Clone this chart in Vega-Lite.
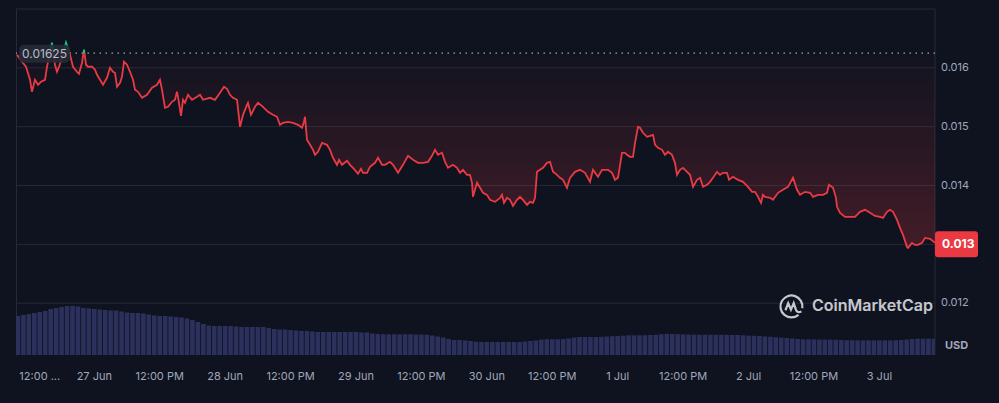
{
  "$schema": "https://vega.github.io/schema/vega-lite/v6.json",
  "width": 919,
  "height": 346,
  "autosize": {"type": "none"},
  "padding": {"left": 16, "top": 9, "right": 64, "bottom": 48},
  "background": "#0e131f",
  "config": {"view": {"stroke": null}, "font": "Inter"},
  "datasets": {
    "price": [
      {"h":9.82,"p":0.016223},{"h":10.74,"p":0.016104},{"h":11.47,"p":0.016019},{"h":12.21,"p":0.015797},{"h":12.57,"p":0.015593},
      {"h":13.12,"p":0.015797},{"h":13.68,"p":0.015712},{"h":14.23,"p":0.015763},{"h":14.96,"p":0.015797},{"h":15.33,"p":0.016019},
      {"h":15.69,"p":0.016189},{"h":16.24,"p":0.016427},{"h":16.79,"p":0.016053},{"h":17.16,"p":0.015933},{"h":17.53,"p":0.016019},
      {"h":18.08,"p":0.016172},{"h":18.81,"p":0.016427},{"h":19.54,"p":0.016223},{"h":19.91,"p":0.016087},{"h":20.09,"p":0.016019},
      {"h":20.83,"p":0.015933},{"h":21.19,"p":0.015899},{"h":21.75,"p":0.016087},{"h":22.11,"p":0.016308},{"h":22.48,"p":0.016053},
      {"h":22.85,"p":0.016019},{"h":23.58,"p":0.016019},{"h":24.13,"p":0.015968},{"h":24.50,"p":0.015882},{"h":25.05,"p":0.015797},
      {"h":25.60,"p":0.015712},{"h":26.33,"p":0.015831},{"h":26.88,"p":0.016002},{"h":27.43,"p":0.015933},{"h":27.80,"p":0.015916},
      {"h":28.17,"p":0.015678},{"h":28.72,"p":0.015746},{"h":29.08,"p":0.015848},{"h":29.45,"p":0.016104},{"h":30.00,"p":0.016053},
      {"h":30.55,"p":0.015933},{"h":31.10,"p":0.015797},{"h":31.47,"p":0.015627},{"h":32.02,"p":0.015593},{"h":32.75,"p":0.015491},
      {"h":33.67,"p":0.015542},{"h":34.59,"p":0.015661},{"h":35.50,"p":0.015712},{"h":36.05,"p":0.015797},{"h":36.42,"p":0.015627},
      {"h":36.97,"p":0.015321},{"h":37.52,"p":0.015338},{"h":38.25,"p":0.015423},{"h":38.80,"p":0.015457},{"h":39.17,"p":0.015593},
      {"h":39.35,"p":0.015508},{"h":39.90,"p":0.015185},{"h":40.27,"p":0.015457},{"h":40.64,"p":0.015406},{"h":41.19,"p":0.015542},
      {"h":41.92,"p":0.015457},{"h":42.84,"p":0.015508},{"h":43.39,"p":0.015542},{"h":43.94,"p":0.015457},{"h":45.22,"p":0.015491},
      {"h":46.14,"p":0.015457},{"h":47.06,"p":0.015576},{"h":47.79,"p":0.015678},{"h":48.34,"p":0.015644},{"h":48.89,"p":0.015542},
      {"h":49.44,"p":0.015491},{"h":50.18,"p":0.015457},{"h":50.73,"p":0.014998},{"h":51.28,"p":0.015202},{"h":52.01,"p":0.015372},
      {"h":52.19,"p":0.015406},{"h":52.74,"p":0.015202},{"h":53.48,"p":0.015338},{"h":54.03,"p":0.015406},{"h":54.94,"p":0.015338},
      {"h":55.86,"p":0.015253},{"h":56.78,"p":0.015202},{"h":57.51,"p":0.015168},{"h":58.06,"p":0.015032},{"h":58.61,"p":0.015066},
      {"h":59.53,"p":0.015083},{"h":60.45,"p":0.015066},{"h":61.36,"p":0.015032},{"h":62.10,"p":0.014981},{"h":62.46,"p":0.015083},
      {"h":62.65,"p":0.015168},{"h":63.01,"p":0.014777},{"h":63.57,"p":0.014692},{"h":64.12,"p":0.014607},{"h":64.48,"p":0.014522},
      {"h":65.03,"p":0.014573},{"h":65.77,"p":0.014726},{"h":66.68,"p":0.014692},{"h":67.23,"p":0.014607},{"h":67.78,"p":0.014471},
      {"h":68.52,"p":0.014352},{"h":68.88,"p":0.014437},{"h":69.43,"p":0.014352},{"h":70.35,"p":0.014420},{"h":70.90,"p":0.014352},
      {"h":71.45,"p":0.014301},{"h":72.37,"p":0.014199},{"h":72.92,"p":0.014284},{"h":73.29,"p":0.014216},{"h":74.02,"p":0.014216},
      {"h":74.57,"p":0.014318},{"h":75.49,"p":0.014386},{"h":76.04,"p":0.014471},{"h":76.77,"p":0.014352},{"h":77.32,"p":0.014352},
      {"h":78.24,"p":0.014403},{"h":78.79,"p":0.014352},{"h":79.71,"p":0.014216},{"h":80.62,"p":0.014352},{"h":81.54,"p":0.014505},
      {"h":82.46,"p":0.014437},{"h":83.38,"p":0.014386},{"h":84.29,"p":0.014386},{"h":85.21,"p":0.014403},{"h":85.94,"p":0.014505},
      {"h":86.49,"p":0.014607},{"h":87.04,"p":0.014522},{"h":87.78,"p":0.014556},{"h":88.33,"p":0.014403},{"h":88.88,"p":0.014301},
      {"h":89.79,"p":0.014352},{"h":90.53,"p":0.014301},{"h":91.08,"p":0.014216},{"h":91.63,"p":0.014267},{"h":92.36,"p":0.014182},
      {"h":92.91,"p":0.014182},{"h":93.28,"p":0.014046},{"h":93.46,"p":0.013808},{"h":94.20,"p":0.014046},{"h":94.75,"p":0.013961},
      {"h":95.30,"p":0.013876},{"h":96.03,"p":0.013842},{"h":96.58,"p":0.013757},{"h":97.50,"p":0.013723},{"h":98.42,"p":0.013791},
      {"h":98.78,"p":0.013842},{"h":99.15,"p":0.013706},{"h":99.70,"p":0.013791},{"h":100.25,"p":0.013757},{"h":100.80,"p":0.013655},
      {"h":101.53,"p":0.013757},{"h":102.08,"p":0.013808},{"h":102.63,"p":0.013757},{"h":103.37,"p":0.013672},{"h":103.92,"p":0.013723},
      {"h":104.47,"p":0.013706},{"h":104.84,"p":0.013791},{"h":105.20,"p":0.014233},{"h":105.75,"p":0.014267},{"h":106.30,"p":0.014301},
      {"h":107.04,"p":0.014386},{"h":107.59,"p":0.014403},{"h":108.14,"p":0.014233},{"h":108.87,"p":0.014182},{"h":109.42,"p":0.014131},
      {"h":109.97,"p":0.014097},{"h":110.70,"p":0.013961},{"h":111.25,"p":0.014131},{"h":112.17,"p":0.014233},{"h":113.09,"p":0.014267},
      {"h":114.01,"p":0.014216},{"h":114.92,"p":0.014063},{"h":115.47,"p":0.014267},{"h":116.39,"p":0.014148},{"h":117.12,"p":0.014267},
      {"h":118.22,"p":0.014267},{"h":118.96,"p":0.014216},{"h":119.51,"p":0.014097},{"h":120.06,"p":0.014131},{"h":120.79,"p":0.014556},
      {"h":121.34,"p":0.014556},{"h":121.71,"p":0.014522},{"h":122.26,"p":0.014488},{"h":122.81,"p":0.014488},{"h":123.18,"p":0.014726},
      {"h":123.73,"p":0.014998},{"h":124.09,"p":0.014981},{"h":124.64,"p":0.014896},{"h":125.38,"p":0.014828},{"h":125.93,"p":0.014845},
      {"h":126.48,"p":0.014862},{"h":126.85,"p":0.014692},{"h":127.40,"p":0.014641},{"h":128.13,"p":0.014607},{"h":128.68,"p":0.014522},
      {"h":129.23,"p":0.014573},{"h":129.96,"p":0.014522},{"h":130.51,"p":0.014386},{"h":130.88,"p":0.014182},{"h":131.43,"p":0.014267},
      {"h":131.98,"p":0.014301},{"h":132.72,"p":0.014233},{"h":133.27,"p":0.014182},{"h":133.82,"p":0.013978},{"h":134.55,"p":0.014097},
      {"h":135.10,"p":0.014131},{"h":135.65,"p":0.013978},{"h":136.38,"p":0.014012},{"h":136.93,"p":0.014063},{"h":137.48,"p":0.014131},
      {"h":138.22,"p":0.014233},{"h":138.77,"p":0.014182},{"h":139.32,"p":0.014216},{"h":140.05,"p":0.014216},{"h":140.42,"p":0.014097},
      {"h":141.15,"p":0.014148},{"h":142.07,"p":0.014097},{"h":142.99,"p":0.014063},{"h":143.90,"p":0.013978},{"h":144.64,"p":0.013893},
      {"h":145.19,"p":0.013893},{"h":145.74,"p":0.013808},{"h":146.29,"p":0.013706},{"h":146.65,"p":0.013842},{"h":147.02,"p":0.013808},
      {"h":147.94,"p":0.013791},{"h":148.49,"p":0.013757},{"h":149.41,"p":0.013876},{"h":150.32,"p":0.013927},{"h":151.24,"p":0.013978},
      {"h":152.16,"p":0.014131},{"h":152.89,"p":0.013927},{"h":153.44,"p":0.013842},{"h":154.36,"p":0.013893},{"h":155.28,"p":0.013876},
      {"h":155.83,"p":0.013808},{"h":156.74,"p":0.013842},{"h":157.66,"p":0.013842},{"h":158.39,"p":0.013876},{"h":158.76,"p":0.014012},
      {"h":159.49,"p":0.013961},{"h":160.04,"p":0.013791},{"h":160.23,"p":0.013638},{"h":160.78,"p":0.013536},{"h":161.70,"p":0.013467},
      {"h":162.61,"p":0.013467},{"h":163.53,"p":0.013467},{"h":164.45,"p":0.013553},{"h":165.36,"p":0.013587},{"h":166.28,"p":0.013536},
      {"h":167.20,"p":0.013484},{"h":168.11,"p":0.013467},{"h":168.67,"p":0.013450},{"h":169.40,"p":0.013553},{"h":169.95,"p":0.013587},
      {"h":170.50,"p":0.013553},{"h":171.23,"p":0.013416},{"h":171.78,"p":0.013280},{"h":172.33,"p":0.013161},{"h":173.07,"p":0.012957},
      {"h":173.25,"p":0.012940},{"h":173.98,"p":0.013025},{"h":174.53,"p":0.012991},{"h":175.09,"p":0.012991},{"h":175.82,"p":0.013025},
      {"h":176.37,"p":0.013110},{"h":177.29,"p":0.013093},{"h":178.20,"p":0.013025}
    ],
    "volume": [
      {"h":10,"v":39},{"h":11,"v":40},{"h":12,"v":41},{"h":13,"v":42},{"h":14,"v":43},{"h":15,"v":44},{"h":16,"v":46},{"h":17,"v":47},
      {"h":18,"v":48},{"h":19,"v":49},{"h":20,"v":49},{"h":21,"v":48.5},{"h":22,"v":47},{"h":23,"v":46.5},{"h":24,"v":46},{"h":25,"v":45.5},
      {"h":26,"v":45},{"h":27,"v":44.5},{"h":28,"v":44.5},{"h":29,"v":43.5},{"h":30,"v":42.5},{"h":31,"v":42},{"h":32,"v":42},{"h":33,"v":41.5},
      {"h":34,"v":40.5},{"h":35,"v":39.5},{"h":36,"v":39},{"h":37,"v":39},{"h":38,"v":38.5},{"h":39,"v":38},{"h":40,"v":37.5},{"h":41,"v":36.5},
      {"h":42,"v":35},{"h":43,"v":33},{"h":44,"v":31},{"h":45,"v":29.5},{"h":46,"v":29},{"h":47,"v":29},{"h":48,"v":29},{"h":49,"v":29},
      {"h":50,"v":28.5},{"h":51,"v":28},{"h":52,"v":28},{"h":53,"v":28},{"h":54,"v":28},{"h":55,"v":28},{"h":56,"v":27},{"h":57,"v":26},
      {"h":58,"v":25.5},{"h":59,"v":25.5},{"h":60,"v":25},{"h":61,"v":24.5},{"h":62,"v":24},{"h":63,"v":24},{"h":64,"v":23.5},{"h":65,"v":23},
      {"h":66,"v":23},{"h":67,"v":23},{"h":68,"v":23},{"h":69,"v":23},{"h":70,"v":23},{"h":71,"v":23},{"h":72,"v":23},{"h":73,"v":22.5},
      {"h":74,"v":22.5},{"h":75,"v":21.5},{"h":76,"v":21},{"h":77,"v":20.7},{"h":78,"v":20.7},{"h":79,"v":20.7},{"h":80,"v":20.7},{"h":81,"v":20.7},
      {"h":82,"v":20.7},{"h":83,"v":20.5},{"h":84,"v":20.5},{"h":85,"v":20.3},{"h":86,"v":19.5},{"h":87,"v":18.5},{"h":88,"v":17.5},{"h":89,"v":16},
      {"h":90,"v":15},{"h":91,"v":15},{"h":92,"v":14.5},{"h":93,"v":14},{"h":94,"v":13.2},{"h":95,"v":13},{"h":96,"v":13},{"h":97,"v":13},
      {"h":98,"v":13},{"h":99,"v":13},{"h":100,"v":13},{"h":101,"v":13},{"h":102,"v":13},{"h":103,"v":13.5},{"h":104,"v":14},{"h":105,"v":14.5},
      {"h":106,"v":15.5},{"h":107,"v":15.8},{"h":108,"v":15.8},{"h":109,"v":15.8},{"h":110,"v":16},{"h":111,"v":16.5},{"h":112,"v":17.5},{"h":113,"v":18},
      {"h":114,"v":18},{"h":115,"v":18},{"h":116,"v":18},{"h":117,"v":18.2},{"h":118,"v":18.5},{"h":119,"v":18.8},{"h":120,"v":19},{"h":121,"v":19.3},
      {"h":122,"v":19.7},{"h":123,"v":19.7},{"h":124,"v":19.7},{"h":125,"v":19.8},{"h":126,"v":20},{"h":127,"v":20.2},{"h":128,"v":20.8},{"h":129,"v":21.2},
      {"h":130,"v":21},{"h":131,"v":20.8},{"h":132,"v":20.6},{"h":133,"v":20.5},{"h":134,"v":20.4},{"h":135,"v":20.3},{"h":136,"v":20.3},{"h":137,"v":20.3},
      {"h":138,"v":20.3},{"h":139,"v":20.2},{"h":140,"v":20.2},{"h":141,"v":20},{"h":142,"v":20},{"h":143,"v":19.7},{"h":144,"v":19.4},{"h":145,"v":19.2},
      {"h":146,"v":19},{"h":147,"v":18.6},{"h":148,"v":18.2},{"h":149,"v":17.8},{"h":150,"v":17.4},{"h":151,"v":17},{"h":152,"v":16.5},{"h":153,"v":16},
      {"h":154,"v":15.7},{"h":155,"v":15.7},{"h":156,"v":15.6},{"h":157,"v":15.5},{"h":158,"v":15.5},{"h":159,"v":15.4},{"h":160,"v":15.3},{"h":161,"v":15},
      {"h":162,"v":14.8},{"h":163,"v":14.7},{"h":164,"v":14.7},{"h":165,"v":14.7},{"h":166,"v":14.7},{"h":167,"v":14.7},{"h":168,"v":14.7},{"h":169,"v":14.7},
      {"h":170,"v":14.7},{"h":171,"v":14.8},{"h":172,"v":15},{"h":173,"v":15.5},{"h":174,"v":16},{"h":175,"v":16.3},{"h":176,"v":16.3},{"h":177,"v":16.3},
      {"h":178,"v":16.3}
    ],
    "xlabels": [
      {"h":14,"label":"12:00 ..."},{"h":24,"label":"27 Jun"},{"h":36,"label":"12:00 PM"},{"h":48,"label":"28 Jun"},
      {"h":60,"label":"12:00 PM"},{"h":72,"label":"29 Jun"},{"h":84,"label":"12:00 PM"},{"h":96,"label":"30 Jun"},
      {"h":108,"label":"12:00 PM"},{"h":120,"label":"1 Jul"},{"h":132,"label":"12:00 PM"},{"h":144,"label":"2 Jul"},
      {"h":156,"label":"12:00 PM"},{"h":168,"label":"3 Jul"}
    ],
    "grid": [{"g": 0.012}, {"g": 0.013}, {"g": 0.014}, {"g": 0.015}, {"g": 0.016}, {"g": 0.017}],
    "ylabels": [{"g": 0.012, "label": "0.012"}, {"g": 0.014, "label": "0.014"}, {"g": 0.015, "label": "0.015"}, {"g": 0.016, "label": "0.016"}]
  },
  "layer": [
    {
      "data": {"name": "volume"},
      "mark": {"type": "bar", "size": 4.6, "color": "#2c305c", "clip": true},
      "encoding": {
        "x": {
          "field": "h", "type": "quantitative",
          "scale": {"domain": [9.64, 178.2], "nice": false, "zero": false, "padding": 0},
          "axis": null
        },
        "y": {
          "field": "v", "type": "quantitative",
          "scale": {"domain": [0, 346], "nice": false},
          "axis": {"orient": "left", "labels": false, "ticks": false, "grid": false, "title": null, "domainColor": "#262a36"}
        }
      }
    },
    {
      "layer": [
        {
          "data": {"name": "grid"},
          "mark": {"type": "rule", "color": "#262a36", "strokeWidth": 1},
          "encoding": {
            "y": {"field": "g", "type": "quantitative", "axis": null}
          }
        },
        {
          "data": {"values": [{}]},
          "mark": {"type": "rule", "color": "#262a36", "strokeWidth": 1},
          "encoding": {
            "x": {"datum": 178.2, "type": "quantitative", "axis": null}
          }
        },
        {
          "data": {"name": "price"},
          "mark": {
            "type": "area", "clip": true,
            "color": {
              "gradient": "linear", "x1": 0, "y1": 0, "x2": 0, "y2": 1,
              "stops": [
                {"offset": 0, "color": "rgba(234,57,67,0)"},
                {"offset": 1, "color": "rgba(234,57,67,0.24)"}
              ]
            }
          },
          "encoding": {
            "x": {"field": "h", "type": "quantitative", "axis": null},
            "y": {"field": "p", "type": "quantitative", "axis": null},
            "y2": {"datum": 0.01625}
          }
        },
        {
          "data": {"values": [{}]},
          "mark": {"type": "rule", "color": "#c3c7d0", "strokeDash": [1.5, 4.5], "strokeWidth": 1.2, "opacity": 0.8},
          "encoding": {
            "y": {"datum": 0.01625, "type": "quantitative", "axis": null}
          }
        },
        {
          "data": {"name": "price"},
          "mark": {
            "type": "line", "strokeWidth": 1.8, "clip": true,
            "stroke": {
              "gradient": "linear", "x1": 0, "y1": 0, "x2": 0, "y2": 1,
              "stops": [
                {"offset": 0, "color": "#16c784"},
                {"offset": 0.05, "color": "#16c784"},
                {"offset": 0.051, "color": "#ea3943"},
                {"offset": 1, "color": "#ea3943"}
              ]
            }
          },
          "encoding": {
            "x": {
              "field": "h", "type": "quantitative",
              "scale": {"domain": [9.64, 178.2], "nice": false, "zero": false, "padding": 0},
              "axis": null
            },
            "y": {
              "field": "p", "type": "quantitative",
              "scale": {"domain": [0.01112, 0.017], "nice": false, "zero": false},
              "axis": null
            }
          }
        },
        {
          "data": {"name": "ylabels"},
          "mark": {"type": "text", "color": "#a1a7bb", "fontSize": 11, "align": "left", "baseline": "middle", "dx": 6},
          "encoding": {
            "x": {"datum": 178.2, "type": "quantitative", "axis": null},
            "y": {"field": "g", "type": "quantitative", "axis": null},
            "text": {"field": "label"}
          }
        },
        {
          "data": {"name": "xlabels"},
          "mark": {"type": "text", "color": "#a1a7bb", "fontSize": 11, "align": "center", "baseline": "middle"},
          "encoding": {
            "x": {"field": "h", "type": "quantitative", "axis": null},
            "y": {"datum": 0.010746, "type": "quantitative", "axis": null},
            "text": {"field": "label"}
          }
        },
        {
          "data": {"values": [{}]},
          "mark": {"type": "rect", "color": "#262a36", "opacity": 0.92, "cornerRadius": 5},
          "encoding": {
            "x": {"datum": 10.19, "type": "quantitative", "axis": null},
            "x2": {"datum": 19.54},
            "y": {"datum": 0.016393, "type": "quantitative", "axis": null},
            "y2": {"datum": 0.016087}
          }
        },
        {
          "data": {"values": [{}]},
          "mark": {"type": "text", "text": "0.01625", "color": "#b7bcc8", "fontSize": 12, "align": "center", "baseline": "middle"},
          "encoding": {
            "x": {"datum": 14.87, "type": "quantitative", "axis": null},
            "y": {"datum": 0.01624, "type": "quantitative", "axis": null}
          }
        },
        {
          "data": {"values": [{}]},
          "mark": {
            "type": "point",
            "shape": "M0,-1 Q0,-1.3 0.3,-1.3 H4 Q4.3,-1.3 4.3,-1 V1 Q4.3,1.3 4,1.3 H0.3 Q0,1.3 0,1 Z",
            "size": 400, "filled": true, "color": "#ea3943", "opacity": 1
          },
          "encoding": {
            "x": {"datum": 178.2, "type": "quantitative", "axis": null},
            "y": {"datum": 0.013, "type": "quantitative", "axis": null}
          }
        },
        {
          "data": {"values": [{}]},
          "mark": {"type": "text", "text": "0.013", "color": "#ffffff", "fontSize": 12, "fontWeight": "bold", "align": "left", "baseline": "middle", "dx": 7},
          "encoding": {
            "x": {"datum": 178.2, "type": "quantitative", "axis": null},
            "y": {"datum": 0.013, "type": "quantitative", "axis": null}
          }
        },
        {
          "data": {"values": [{}]},
          "mark": {"type": "text", "text": "USD", "color": "#a1a7bb", "fontSize": 11, "fontWeight": "bold", "align": "left", "baseline": "middle", "dx": 10},
          "encoding": {
            "x": {"datum": 178.2, "type": "quantitative", "axis": null},
            "y": {"datum": 0.011274, "type": "quantitative", "axis": null}
          }
        },
        {
          "data": {"values": [{}]},
          "mark": {
            "type": "point",
            "shape": "M0.64,0.77 A1,1 0 1 1 0.98,0.17 M-0.55,0.35 L-0.3,-0.3 L-0.05,0.3 L0.2,-0.3 L0.4,0.3 Q0.55,0.65 0.9,0.45",
            "size": 484, "filled": false, "color": "#e6e8ec", "strokeWidth": 2.2, "opacity": 0.85
          },
          "encoding": {
            "x": {"datum": 151.88, "type": "quantitative", "axis": null},
            "y": {"datum": 0.011946, "type": "quantitative", "axis": null}
          }
        },
        {
          "data": {"values": [{}]},
          "mark": {"type": "text", "text": "CoinMarketCap", "color": "#e6e8ec", "opacity": 0.85, "fontSize": 16, "fontWeight": 600, "align": "left", "baseline": "middle"},
          "encoding": {
            "x": {"datum": 155.64, "type": "quantitative", "axis": null},
            "y": {"datum": 0.011954, "type": "quantitative", "axis": null}
          }
        }
      ]
    }
  ],
  "resolve": {"scale": {"y": "independent"}, "axis": {"y": "independent"}}
}
